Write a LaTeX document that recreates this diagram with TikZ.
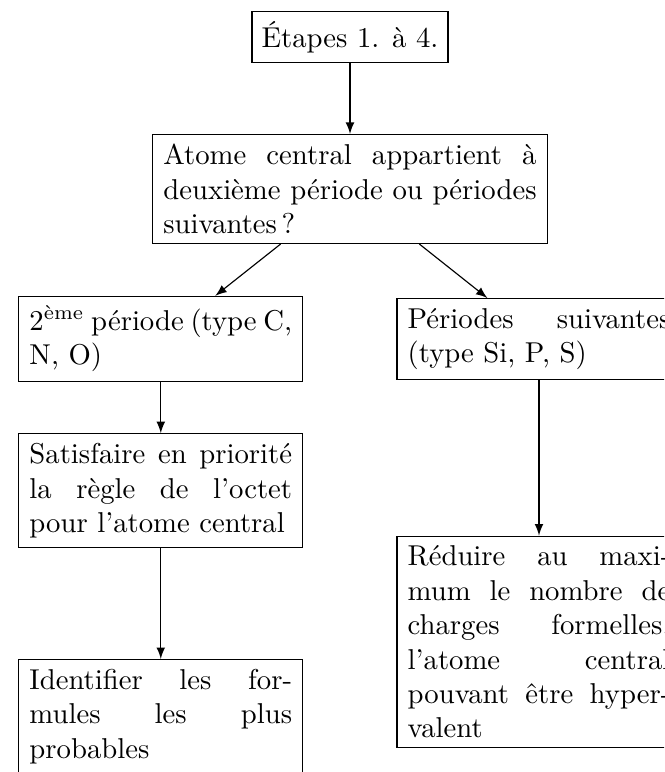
\documentclass[tikz,border=0pt]{standalone}
\usepackage{fontspec}
%no hyphenation patterns: only the breaks marked with \- are allowed
\language=255
\begin{document}
\begin{tikzpicture}[x=0.3484pt,y=0.3484pt,yscale=-1,xscale=1,
  boite/.style={draw, align=justify, inner xsep=3.75pt},
  etroite/.style={boite, text width=91.5pt},
  large/.style={boite, text width=130pt},
  fleche/.style={-latex}]
%set diagram size to the reference and cut what goes past it
\useasboundingbox (0,0) rectangle (664,772);
\clip (0,0) rectangle (664,772);

% Text Node
\node [draw] (etapes) at (350,37) {Étapes 1. à 4.};
% Text Node
\node [large] (question) at (350,189) {Atome central appartient à deuxième période ou périodes suivantes\,?};
% Text Node
\node [etroite] (deuxieme) at (160.8,339) {2\textsuperscript{ème} période (type C, N, O)};
% Text Node
\node [etroite] (suivantes) at (539,339) {Périodes suivantes (type Si, P, S)};
% Text Node
\node [etroite] (octet) at (160.8,490.7) {Satisfaire en priorité la règle de l'octet pour l'atome central};
% Text Node
\node [etroite] (reduire) at (539,642) {Réduire au maxi\-mum le nombre de charges formelles, l'atome central pouvant être hyper\-valent};
% Text Node
\node [etroite] (identifier) at (160.8,716.5) {Identifier les for\-mules les plus probables};

%Straight Lines
\draw [fleche] (etapes) -- (question);
\draw [fleche] (question) -- (deuxieme);
\draw [fleche] (question) -- (suivantes);
\draw [fleche] (deuxieme) -- (octet);
\draw [fleche] (octet) -- (identifier);
\draw [fleche] (suivantes) -- (reduire);

\end{tikzpicture}
\end{document}
